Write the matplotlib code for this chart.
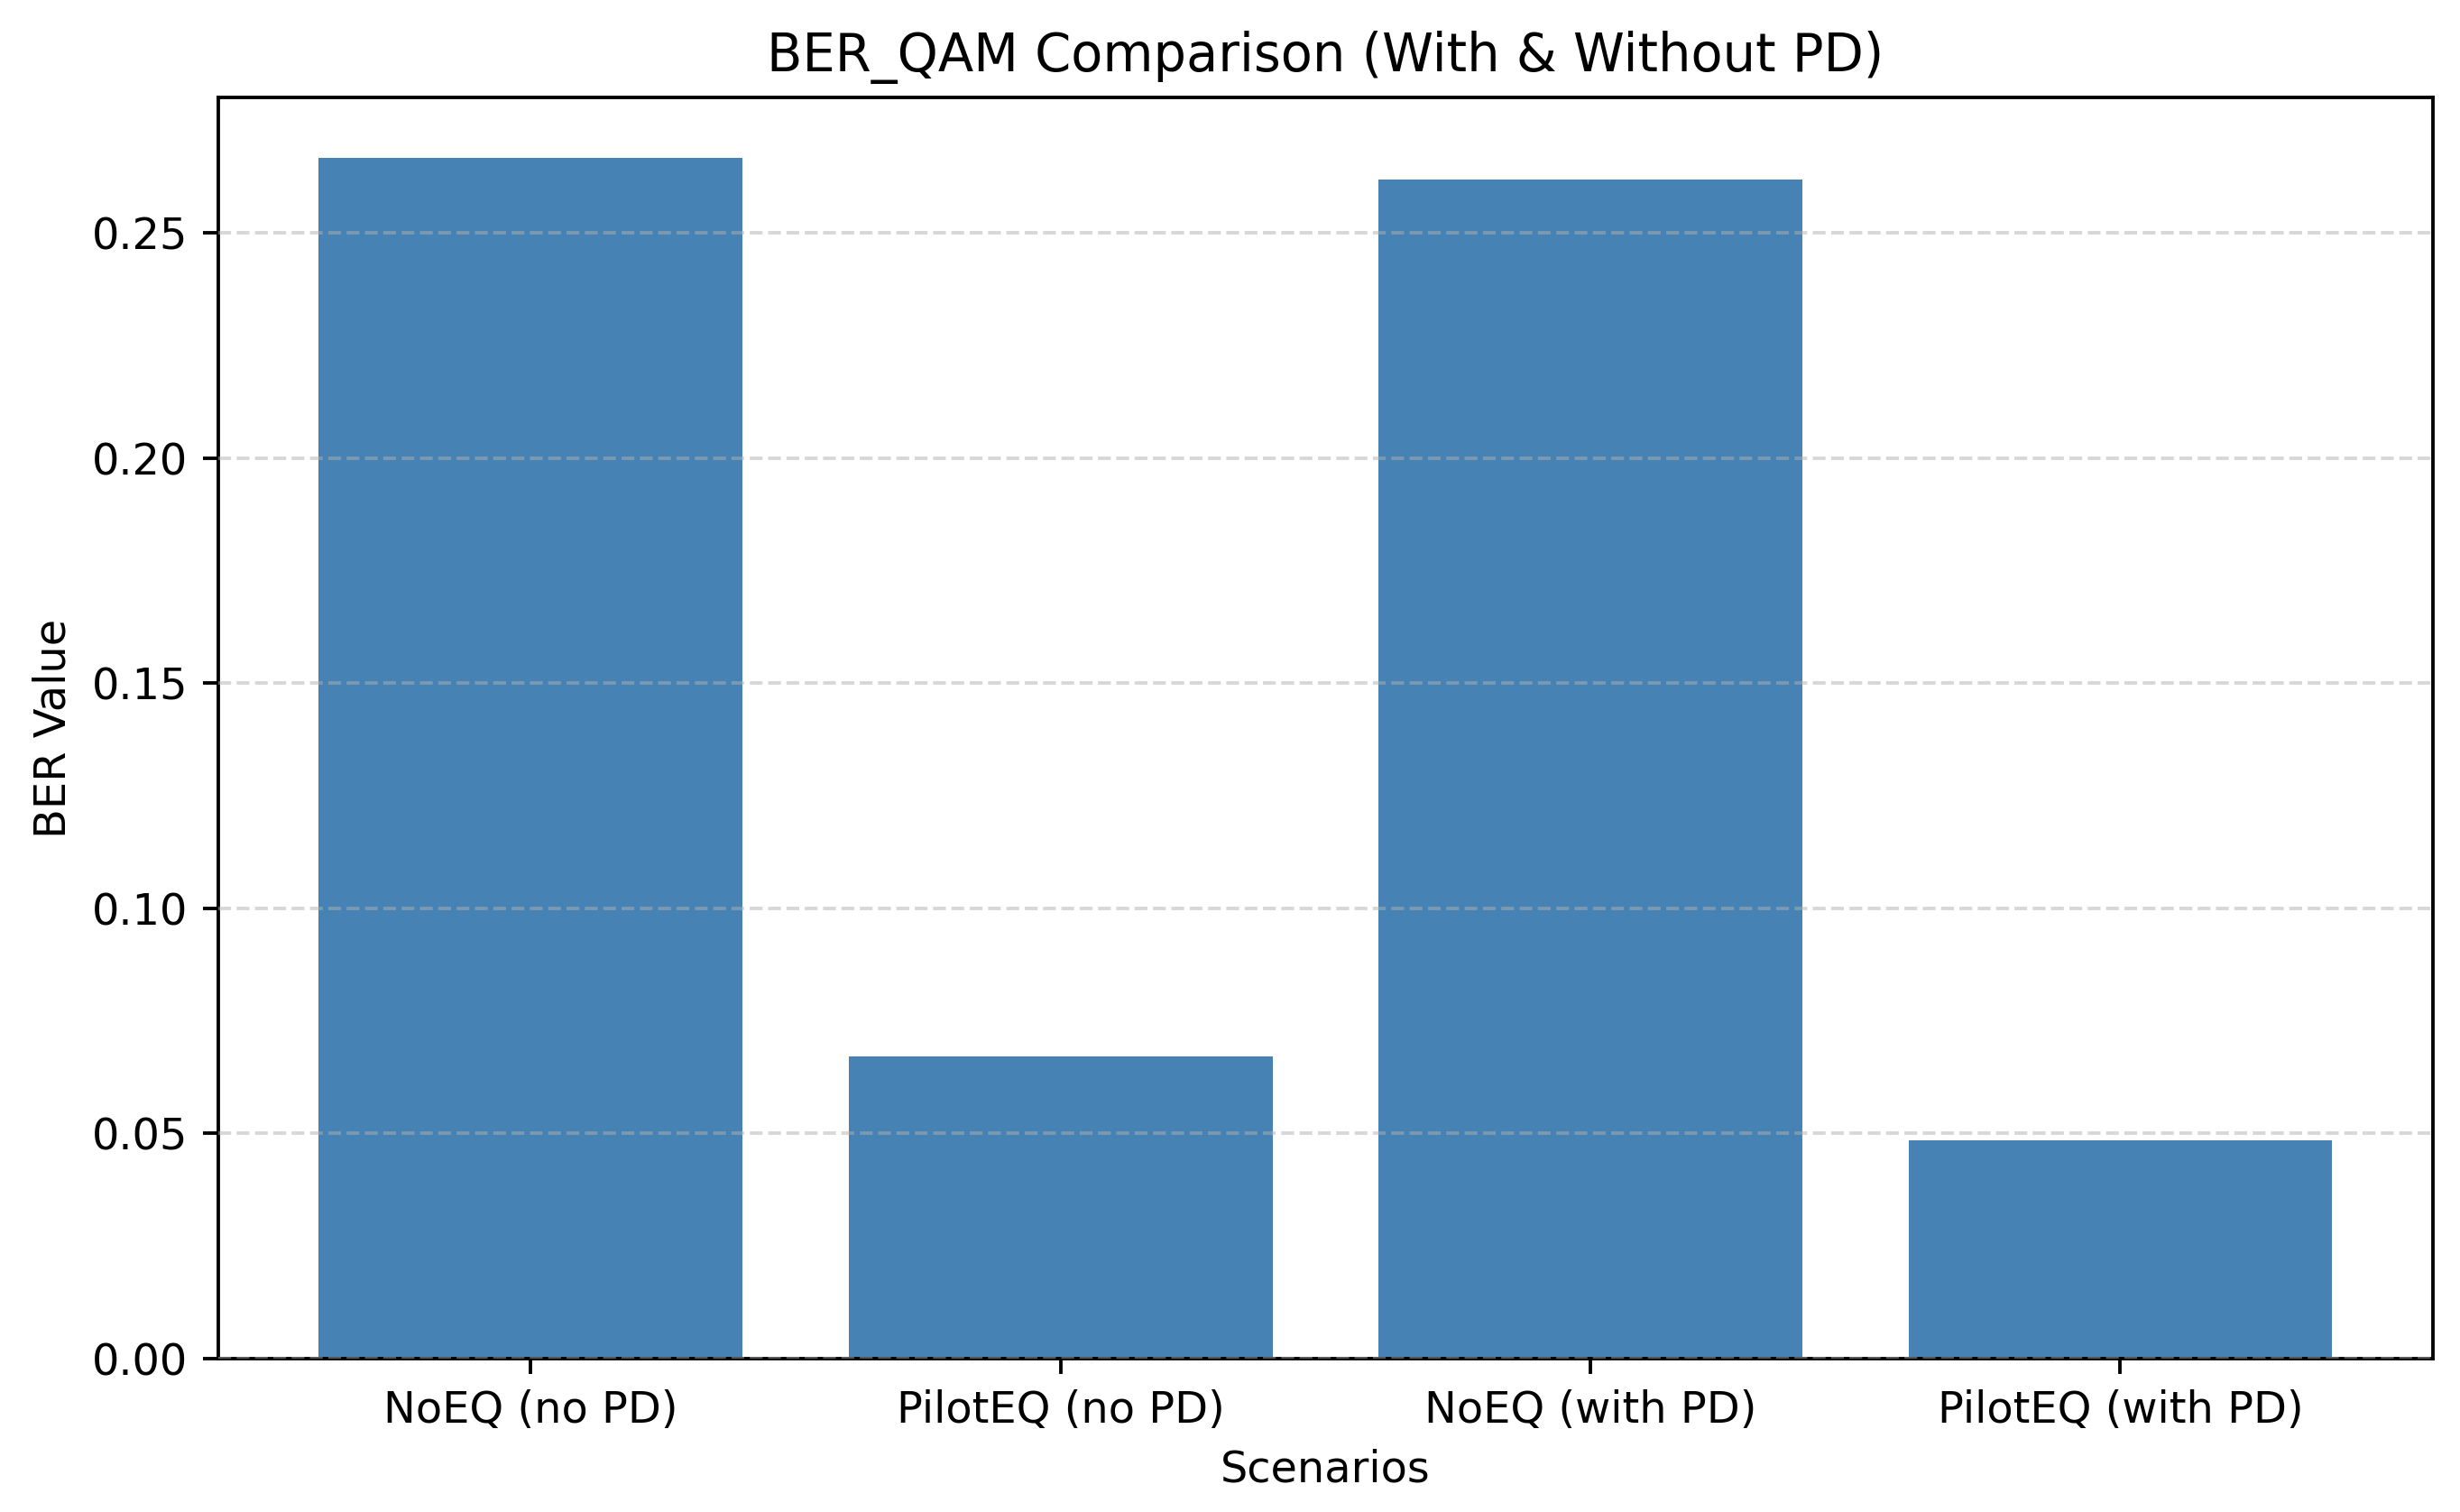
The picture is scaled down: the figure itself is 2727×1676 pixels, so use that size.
import matplotlib
matplotlib.use("Agg")
import matplotlib.pyplot as plt

categories = ["NoEQ (no PD)", "PilotEQ (no PD)", "NoEQ (with PD)", "PilotEQ (with PD)"]
ber_values = [0.2667, 0.0672, 0.2618, 0.0485]

DPI = 345
fig = plt.figure(figsize=(2727/DPI, 1676/DPI), dpi=DPI)
ax = fig.add_axes([0.0887, 0.1014, 0.9003, 0.8342])
ax.bar(categories, ber_values, color="steelblue", zorder=1)
ax.grid(axis="y", linestyle="--", alpha=0.5, zorder=2)
ax.set_axisbelow(False)
ax.set_title("BER_QAM Comparison (With & Without PD)", fontsize=12)
ax.set_xlabel("Scenarios", fontsize=10)
ax.set_ylabel("BER Value", fontsize=10)
ax.tick_params(labelsize=10)
fig.savefig("out.png", dpi=DPI)
